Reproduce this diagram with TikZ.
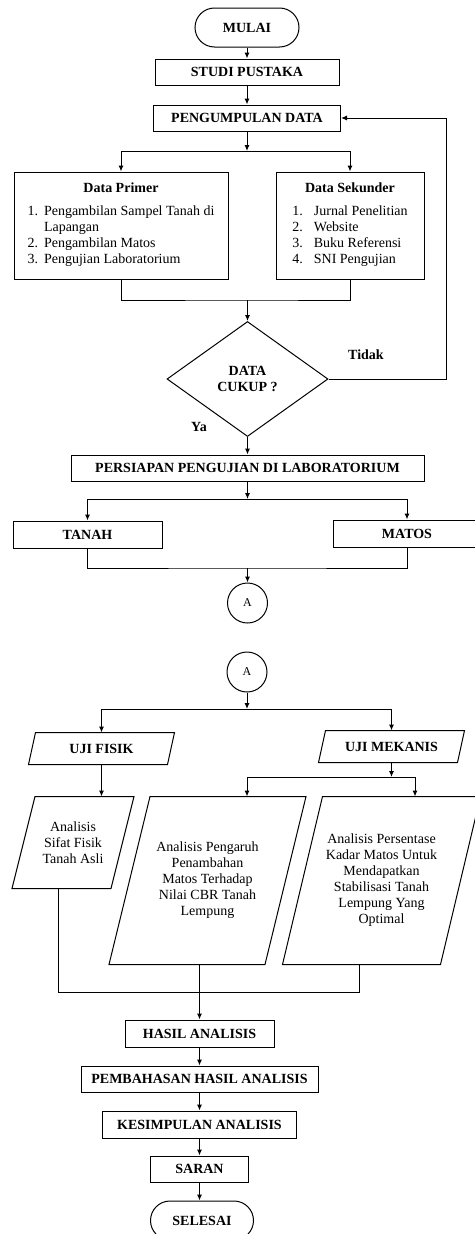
\documentclass[tikz,border=0pt]{standalone}
\usepackage{fontspec}
\setmainfont{Liberation Serif}
\usetikzlibrary{shapes.geometric,arrows.meta}

\begin{document}
\begin{tikzpicture}[x=1pt,y=-1pt,line width=1pt,>={Latex[length=6pt,width=5pt]},
  every node/.style={font=\fontsize{14}{16}\selectfont},
  tebal/.style={font=\fontsize{14}{16}\selectfont\bfseries},
  proses/.style={draw,rectangle,inner sep=0pt,tebal},
  kotak/.style={draw,rectangle,inner sep=0pt,align=center,minimum height=107pt},
  terminal/.style={draw,rectangle,rounded corners=19.5pt,inner sep=0pt,minimum width=104pt,minimum height=39pt,tebal},
  keputusan/.style={draw,diamond,aspect=1.4,inner sep=0pt,minimum width=161pt,minimum height=115pt,align=center,tebal},
  jajar/.style={rectangle,inner sep=0pt,align=center},
  konektor/.style={draw,circle,minimum size=40pt,inner sep=0pt,font=\fontsize{12}{14}\selectfont}]
\useasboundingbox (0,0) rectangle (474,1234);

\node[terminal] (mulai) at (247,27.5) {MULAI};
\node[proses, minimum width=184pt, minimum height=26pt] (studi) at (247,72) {STUDI PUSTAKA};
\node[proses, minimum width=187pt, minimum height=26pt] (kumpul) at (247,118) {PENGUMPULAN DATA};
\node[kotak, minimum width=214pt] (primer) at (121,225.5) {\textbf{Data Primer}\\[11pt]
  \begin{tabular}{@{}l@{\hspace{6pt}}l@{}}1. & Pengambilan Sampel Tanah di\\ & Lapangan\\ 2. & Pengambilan Matos\\ 3. & Pengujian Laboratorium\end{tabular}};
\node[kotak, minimum width=148pt] (sekunder) at (350,225.5) {\textbf{Data Sekunder}\\[11pt]
  \begin{tabular}{@{}l@{\hspace{11pt}}l@{}}1. & Jurnal Penelitian\\ 2. & Website\\ 3. & Buku Referensi\\ 4. & SNI Pengujian\end{tabular}};
\node[keputusan] (cek) at (247.5,379) {DATA\\CUKUP ?};
\node[tebal] (tidak) at (366,355) {Tidak};
\node[tebal] (ya) at (199,427) {Ya};
\node[proses, minimum width=353pt, minimum height=26pt] (persiapan) at (247.5,468) {PERSIAPAN PENGUJIAN DI LABORATORIUM};
\node[proses, minimum width=149pt, minimum height=27pt] (tanah) at (87.5,534.5) {TANAH};
\node[proses, minimum width=148pt, minimum height=27pt] (matos) at (407,533.5) {MATOS};
\node[konektor] (a1) at (247.5,603) {A};

\node[konektor] (a2) at (247,672) {A};
\node[jajar, tebal, minimum width=138pt, minimum height=31pt] (fisik) at (101.5,748.5) {UJI FISIK};
\node[jajar, tebal, minimum width=138pt, minimum height=31pt] (mekanis) at (391.5,746.5) {UJI MEKANIS};
\node[jajar, minimum width=98pt, minimum height=91pt] (sifat) at (73,842.5) {Analisis\\Sifat Fisik\\Tanah Asli};
\node[jajar, minimum width=155pt, minimum height=167pt] (pengaruh) at (207.5,880.5) {Analisis Pengaruh\\Penambahan\\Matos Terhadap\\Nilai CBR Tanah\\Lempung};
\node[jajar, minimum width=157pt, minimum height=167pt] (persen) at (381.5,880.5) {Analisis Persentase\\Kadar Matos Untuk\\Mendapatkan\\Stabilisasi Tanah\\Lempung Yang\\Optimal};
% jajaran genjang
\foreach \n/\s in {fisik/3.5, mekanis/3.5, sifat/11.5, pengaruh/20.5, persen/20}
  \draw ([xshift=\s]\n.north west) -- ([xshift=\s]\n.north east)
     -- ([xshift=-\s]\n.south east) -- ([xshift=-\s]\n.south west) -- cycle;
\node[proses, minimum width=149pt, minimum height=27pt] (hasil) at (199.5,1033.5) {HASIL ANALISIS};
\node[proses, minimum width=237pt, minimum height=26pt] (bahas) at (199.5,1079) {PEMBAHASAN HASIL ANALISIS};
\node[proses, minimum width=194pt, minimum height=27pt] (simpul) at (199.5,1124.5) {KESIMPULAN ANALISIS};
\node[proses, minimum width=98pt, minimum height=26pt] (saran) at (199.5,1169) {SARAN};
\node[terminal, minimum width=103pt] (selesai) at (202,1220.5) {SELESAI};

\coordinate (bagi1) at (247,151);
\coordinate (gabung1) at (247.5,300);
\coordinate (balik) at (446,379);
\coordinate (bagi2) at (247.5,499);
\coordinate (gabung2) at (247.5,568);
\coordinate (bagi3) at (247,709);
\coordinate (bagi4) at (391.5,777);
\coordinate (cabang1) at (247,777);
\coordinate (cabang2) at (415,777);
\coordinate (gabung3) at (199.5,992);

\path[->] (mulai) edge (studi)
          (studi) edge (kumpul)
          (kumpul) edge (bagi1);
\draw[->] (bagi1) -| (primer);
\draw[->] (bagi1) -| (sekunder);
\draw (primer) |- (gabung1) -| (sekunder);
\draw[->] (gabung1) -- (cek);
\draw[->] (cek.east) -- (balik) |- (kumpul);
\draw[->] (cek) -- (persiapan);
\draw[->] (persiapan) -- (bagi2);
\draw[->] (bagi2) -| (tanah);
\draw[->] (bagi2) -| (matos);
\draw (tanah) |- (gabung2) -| (matos);
\draw[->] (gabung2) -- (a1);

\draw[->] (a2) -- (bagi3);
\draw[->] (bagi3) -| (fisik);
\draw[->] (bagi3) -| (mekanis);
\draw[->] (fisik) -- (fisik |- sifat.north);
\draw[->] (mekanis) -- (bagi4);
\draw (cabang1) -- (cabang2);
\draw[->] (cabang1) -- (cabang1 |- pengaruh.north);
\draw[->] (cabang2) -- (cabang2 |- persen.north);
\draw ([xshift=-15]sifat.south) |- (gabung3) -| ([xshift=-22]persen.south);
\draw[->] (hasil |- pengaruh.south) -- (hasil);
\path[->] (hasil) edge (bahas)
          (bahas) edge (simpul)
          (simpul) edge (saran)
          (saran) edge (saran |- selesai.north);
\end{tikzpicture}
\end{document}
